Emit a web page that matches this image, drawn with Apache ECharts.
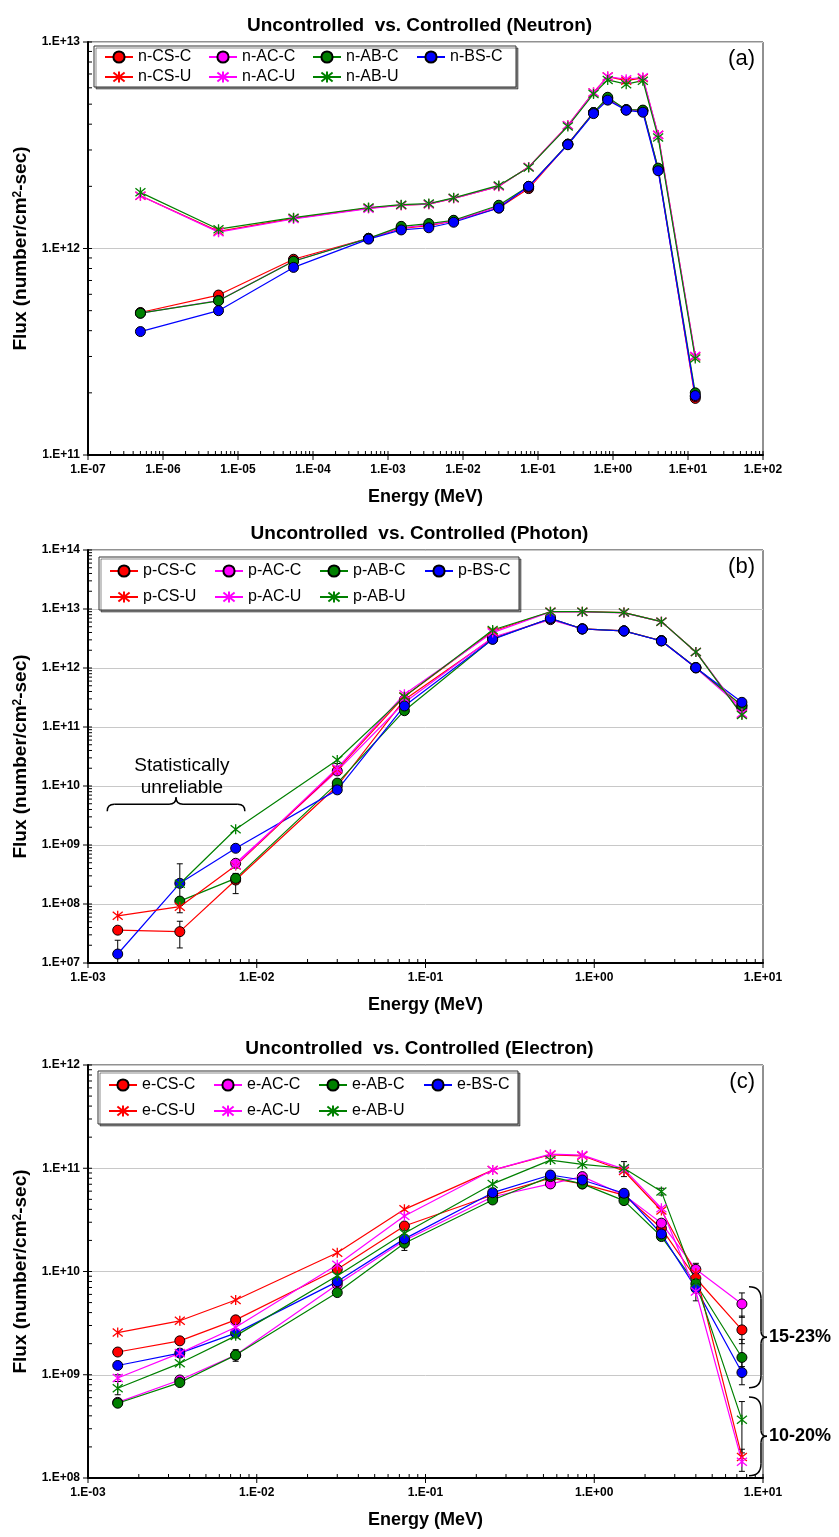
<!DOCTYPE html>
<html>
<head>
<meta charset="utf-8">
<script src="https://cdn.jsdelivr.net/npm/echarts@6/dist/echarts.min.js"></script>
<style>
  html, body { margin: 0; padding: 0; background: #fff; }
  #chart { width: 839px; height: 1537px; }
</style>
</head>
<body>
<div id="chart"></div>
<script>
// energies (MeV)
const nEnergy = [5e-7, 5.5e-6, 5.5e-5, 5.5e-4, 1.5e-3, 3.5e-3, 7.5e-3, 0.03, 0.075, 0.25, 0.55, 0.85, 1.5, 2.5, 4, 12.5];
const peEnergy = [1.5e-3, 3.5e-3, 7.5e-3, 0.03, 0.075, 0.25, 0.55, 0.85, 1.5, 2.5, 4, 7.5];

// (a) neutron flux
const nCSC = [4.9e11, 5.95e11, 8.87e11, 1.12e12, 1.25e12, 1.29e12, 1.36e12, 1.57e12, 1.95e12, 3.2e12, 4.55e12, 5.3e12, 4.7e12, 4.65e12, 2.42e12, 1.88e11];
const nACC = [4.86e11, 5.6e11, 8.7e11, 1.12e12, 1.26e12, 1.3e12, 1.36e12, 1.6e12, 1.98e12, 3.2e12, 4.55e12, 5.35e12, 4.7e12, 4.65e12, 2.42e12, 1.92e11];
const nABC = [4.86e11, 5.58e11, 8.67e11, 1.12e12, 1.28e12, 1.32e12, 1.37e12, 1.62e12, 2.0e12, 3.2e12, 4.55e12, 5.4e12, 4.7e12, 4.68e12, 2.45e12, 2.0e11];
const nBSC = [3.96e11, 5.0e11, 8.1e11, 1.11e12, 1.23e12, 1.26e12, 1.34e12, 1.57e12, 2.0e12, 3.18e12, 4.5e12, 5.23e12, 4.67e12, 4.57e12, 2.38e12, 1.94e11];
const nCSU = [1.8e12, 1.21e12, 1.4e12, 1.57e12, 1.62e12, 1.64e12, 1.75e12, 2.0e12, 2.48e12, 3.95e12, 5.7e12, 6.8e12, 6.5e12, 6.7e12, 3.55e12, 3.0e11];
const nACU = [1.8e12, 1.2e12, 1.39e12, 1.56e12, 1.62e12, 1.64e12, 1.75e12, 2.0e12, 2.48e12, 3.95e12, 5.7e12, 6.8e12, 6.6e12, 6.75e12, 3.55e12, 3.02e11];
const nABU = [1.87e12, 1.24e12, 1.41e12, 1.58e12, 1.63e12, 1.65e12, 1.76e12, 2.02e12, 2.47e12, 3.9e12, 5.6e12, 6.55e12, 6.25e12, 6.5e12, 3.45e12, 2.93e11];

// (b) photon flux
const pCSC = [3.6e7, 3.4e7, 2.55e8, 1.0e10, 2.9e11, 3.2e12, 6.9e12, 4.6e12, 4.25e12, 2.9e12, 1.02e12, 2.3e11];
const pACC = [null, null, 4.9e8, 1.8e10, 2.6e11, 3.3e12, 6.6e12, 4.6e12, 4.25e12, 2.9e12, 1.0e12, 2.1e11];
const pABC = [null, 1.12e8, 2.72e8, 1.12e10, 1.89e11, 3.1e12, 6.9e12, 4.6e12, 4.25e12, 2.9e12, 1.02e12, 2.3e11];
const pBSC = [1.42e7, 2.24e8, 8.8e8, 8.6e9, 2.27e11, 3.06e12, 6.96e12, 4.58e12, 4.24e12, 2.87e12, 1.01e12, 2.62e11];
const pCSU = [6.3e7, 9.0e7, 4.5e8, 1.9e10, 3.3e11, 4.2e12, 9.0e12, 9.0e12, 8.7e12, 6.1e12, 1.87e12, 1.65e11];
const pACU = [null, null, 4.6e8, 2.0e10, 3.6e11, 3.98e12, 8.9e12, 8.9e12, 8.6e12, 6.1e12, 1.87e12, 1.7e11];
const pABU = [null, 2.2e8, 1.85e9, 2.76e10, 3.27e11, 4.4e12, 9.0e12, 9.0e12, 8.7e12, 6.1e12, 1.87e12, 1.6e11];
const pErr = [[1.5e-3, 5e6, 2.43e7], [3.5e-3, 1.0e8, 4.8e8], [3.5e-3, 1.8e7, 5.1e7], [3.5e-3, 7.1e7, 1.08e8],
              [7.5e-3, 1.5e8, 3.2e8], [7.5e-3, 4.1e8, 5.7e8], [7.5e-3, 2.2e8, 3.3e8], [0.03, 1.6e10, 2.4e10]];

// (c) electron flux
const eCSC = [1.66e9, 2.13e9, 3.4e9, 1.05e10, 2.76e10, 5.5e10, 8.0e10, 7.05e10, 5.5e10, 2.62e10, 8.6e9, 2.72e9];
const eACC = [5.4e8, 8.9e8, 1.55e9, 7.5e9, 2.0e10, 5.3e10, 7.05e10, 8.3e10, 5.5e10, 2.94e10, 1.05e10, 4.85e9];
const eABC = [5.3e8, 8.4e8, 1.55e9, 6.25e9, 1.88e10, 4.93e10, 8.3e10, 7.05e10, 4.86e10, 2.18e10, 7.6e9, 1.47e9];
const eBSC = [1.23e9, 1.62e9, 2.53e9, 7.98e9, 2.07e10, 5.8e10, 8.6e10, 7.7e10, 5.73e10, 2.31e10, 6.9e9, 1.05e9];
const eCSU = [2.56e9, 3.33e9, 5.3e9, 1.52e10, 4.0e10, 9.6e10, 1.35e11, 1.32e11, 9.4e10, 3.9e10, 9.6e9, 1.6e8];
const eACU = [9.3e8, 1.62e9, 2.88e9, 1.16e10, 3.45e10, 9.6e10, 1.37e11, 1.34e11, 9.8e10, 4.1e10, 6.4e9, 1.44e8];
const eABU = [7.4e8, 1.29e9, 2.38e9, 9.1e9, 2.35e10, 7.05e10, 1.2e11, 1.09e11, 1.0e11, 5.94e10, 7.8e9, 3.66e8];
const eErr = [[1.5e-3, 6.4e8, 8.6e8], [1.5e-3, 8.6e8, 1.0e9], [7.5e-3, 1.35e9, 1.75e9], [0.075, 1.6e10, 2.2e10],
              [1.5, 8.3e10, 1.16e11], [2.5, 5.5e10, 6.4e10], [4, 8.8e9, 1.2e10], [4, 5.2e9, 7.6e9],
              [7.5, 3.6e9, 6.2e9], [7.5, 2.0e9, 3.7e9], [7.5, 1.2e9, 2.2e9], [7.5, 8.0e8, 1.35e9],
              [7.5, 1.75e8, 5.5e8], [7.5, 1.16e8, 1.9e8]];

// axis ranges (exponents)
const xRange = [[-7, 2], [-3, 1], [-3, 1]];
const yRange = [[11, 13], [7, 14], [8, 12]];
const titles = ['Uncontrolled  vs. Controlled (Neutron)', 'Uncontrolled  vs. Controlled (Photon)', 'Uncontrolled  vs. Controlled (Electron)'];
const panelTags = ['(a)', '(b)', '(c)'];

const FONT = '"Liberation Sans", Arial, sans-serif';
const RED = '#ff0000', MAG = '#ff00ff', GRN = '#008000', BLU = '#0000ff';
const STAR = 'path://M5,0L5,10M1,1L9,9M1,9L9,1';
const gridTops = [42, 550, 1065];

function expLabel(v) {
    let e = Math.round(Math.log10(v));
    return '1.E' + (e < 0 ? '-' : '+') + String(Math.abs(e)).padStart(2, '0');
}

function pairs(xs, ys) {
    return xs.map((x, i) => [x, ys[i]]).filter(p => p[1] != null);
}

function lineSeries(name, color, star, idx, xs, ys) {
    return {
        name: name, type: 'line', xAxisIndex: idx, yAxisIndex: idx,
        data: pairs(xs, ys),
        symbol: star ? STAR : 'circle',
        symbolSize: star ? 10 : 10,
        lineStyle: { color: color, width: 1.2 },
        itemStyle: star ? { color: color, borderColor: color, borderWidth: 1.3 }
                        : { color: color, borderColor: '#000', borderWidth: 1 },
        emphasis: { disabled: true },
        z: 3
    };
}

// axis ticks: major ticks cross the axis, minor ticks sit inside
function logTicks(lo, hi) {
    let out = [];
    for (let e = lo; e <= hi; e++) {
        out.push([Math.pow(10, e), 1]);
        if (e < hi) for (let m = 2; m <= 9; m++) out.push([m * Math.pow(10, e), 0]);
    }
    return out;
}

function tickSeries(idx, axis) {
    let ticks = axis === 'x' ? logTicks(xRange[idx][0], xRange[idx][1]) : logTicks(yRange[idx][0], yRange[idx][1]);
    let fixed = axis === 'x' ? Math.pow(10, yRange[idx][0]) : Math.pow(10, xRange[idx][0]);
    return {
        type: 'custom', xAxisIndex: idx, yAxisIndex: idx, silent: true, clip: false, z: 6,
        data: ticks.map(t => axis === 'x' ? [t[0], fixed, t[1]] : [fixed, t[0], t[1]]),
        renderItem: function (params, api) {
            let p = api.coord([api.value(0), api.value(1)]);
            let major = api.value(2) === 1;
            let shape = axis === 'x'
                ? { x1: p[0], y1: p[1] - 4, x2: p[0], y2: p[1] + (major ? 5 : 0) }
                : { x1: p[0] + 4, y1: p[1], x2: p[0] - (major ? 5 : 0), y2: p[1] };
            return { type: 'line', shape: shape, style: { stroke: '#000', lineWidth: 1 } };
        }
    };
}

function errSeries(idx, bars) {
    return {
        type: 'custom', xAxisIndex: idx, yAxisIndex: idx, silent: true, clip: true, z: 2,
        data: bars,
        renderItem: function (params, api) {
            let lo = api.coord([api.value(0), api.value(1)]);
            let hi = api.coord([api.value(0), api.value(2)]);
            let st = { stroke: '#000', lineWidth: 1 };
            return { type: 'group', children: [
                { type: 'line', shape: { x1: lo[0], y1: lo[1], x2: hi[0], y2: hi[1] }, style: st },
                { type: 'line', shape: { x1: lo[0] - 3, y1: lo[1], x2: lo[0] + 3, y2: lo[1] }, style: st },
                { type: 'line', shape: { x1: hi[0] - 3, y1: hi[1], x2: hi[0] + 3, y2: hi[1] }, style: st }
            ] };
        }
    };
}

let grids = [], xAxes = [], yAxes = [], legends = [], titleList = [], series = [];

const panels = [
    { pre: 'n', xs: nEnergy, data: [nCSC, nACC, nABC, nBSC, nCSU, nACU, nABU], err: null },
    { pre: 'p', xs: peEnergy, data: [pCSC, pACC, pABC, pBSC, pCSU, pACU, pABU], err: pErr },
    { pre: 'e', xs: peEnergy, data: [eCSC, eACC, eABC, eBSC, eCSU, eACU, eABU], err: eErr }
];
const seriesTags = [['CS-C', RED, false], ['AC-C', MAG, false], ['AB-C', GRN, false], ['BS-C', BLU, false],
                    ['CS-U', RED, true], ['AC-U', MAG, true], ['AB-U', GRN, true]];
// left, top, gap, padding, text box width
const legendPos = [[94, 46, 4, [3, 0, 2, 10], 66], [99, 557, 10, [6, 0, 5, 10], 61], [98, 1071, 10, [6, 0, 5, 10], 61]];

panels.forEach(function (pn, i) {
    grids.push({ left: 88, right: 76, top: gridTops[i], height: 413, show: true, borderColor: '#222', borderWidth: 1, containLabel: false });
    titleList.push({ text: titles[i], left: 'center', top: gridTops[i] - 31,
        textStyle: { fontFamily: FONT, fontWeight: 'bold', fontSize: 19, color: '#000' } });
    xAxes.push({
        type: 'log', logBase: 10, gridIndex: i,
        min: Math.pow(10, xRange[i][0]), max: Math.pow(10, xRange[i][1]), splitNumber: xRange[i][1] - xRange[i][0],
        name: 'Energy (MeV)', nameLocation: 'middle', nameGap: 33,
        nameTextStyle: { fontFamily: FONT, fontWeight: 'bold', fontSize: 18, color: '#000' },
        axisLine: { show: true, onZero: false, lineStyle: { color: '#000', width: 2 } },
        axisTick: { show: false }, splitLine: { show: false },
        axisLabel: { formatter: expLabel, fontFamily: FONT, fontWeight: 'bold', fontSize: 12, color: '#000', margin: 9,
                     showMinLabel: true, showMaxLabel: true }
    });
    yAxes.push({
        type: 'log', logBase: 10, gridIndex: i,
        min: Math.pow(10, yRange[i][0]), max: Math.pow(10, yRange[i][1]), splitNumber: yRange[i][1] - yRange[i][0],
        name: 'Flux (number/cm{sup|2}-sec)', nameLocation: 'middle', nameGap: 55,
        nameTextStyle: { fontFamily: FONT, fontWeight: 'bold', fontSize: 19, color: '#000',
                         rich: { sup: { fontFamily: FONT, fontWeight: 'bold', fontSize: 12, verticalAlign: 'top', padding: [0, 0, 8, 0] } } },
        axisLine: { show: true, onZero: false, lineStyle: { color: '#000', width: 2 } },
        axisTick: { show: false },
        splitLine: { show: true, lineStyle: { color: '#c8c8c8', width: 1 } },
        axisLabel: { formatter: expLabel, fontFamily: FONT, fontWeight: 'bold', fontSize: 12, color: '#000', margin: 8,
                     showMinLabel: true, showMaxLabel: true }
    });
    let names = [];
    seriesTags.forEach(function (t, k) {
        let nm = pn.pre + '-' + t[0];
        names.push(nm);
        series.push(lineSeries(nm, t[1], t[2], i, pn.xs, pn.data[k]));
    });
    let lp = legendPos[i];
    legends.push({
        data: names, left: lp[0], top: lp[1], orient: 'horizontal', width: 4 * (38 + lp[4]) + 3 * lp[2] + 10,
        itemWidth: 28, itemHeight: 14, itemGap: lp[2], padding: lp[3],
        borderColor: '#333', borderWidth: 1, backgroundColor: '#fff',
        shadowColor: 'rgba(0,0,0,0.45)', shadowOffsetX: 2, shadowOffsetY: 2, shadowBlur: 0,
        selectedMode: false,
        formatter: '{t|{name}}',
        textStyle: { fontFamily: FONT, fontSize: 16, color: '#000',
                     rich: { t: { width: lp[4], lineHeight: 16, fontSize: 16, fontFamily: FONT, color: '#000' } } }
    });
    if (pn.err) series.push(errSeries(i, pn.err));
    series.push(tickSeries(i, 'x'));
    series.push(tickSeries(i, 'y'));
});

const chart = echarts.init(document.getElementById('chart'), null, { renderer: 'canvas' });
chart.setOption({
    animation: false,
    backgroundColor: '#fff',
    title: titleList,
    grid: grids,
    xAxis: xAxes,
    yAxis: yAxes,
    legend: legends,
    series: series
});

// annotations placed from the data scales
function px(i, x, y) {
    return chart.convertToPixel({ xAxisIndex: i, yAxisIndex: i }, [x, y]);
}

const braceStyle = { stroke: '#000', lineWidth: 1.5, fill: null };
function seg(a, b) {
    return { type: 'line', z: 10, silent: true, shape: { x1: a[0], y1: a[1], x2: b[0], y2: b[1] }, style: braceStyle };
}
function quad(a, c, b) {
    return { type: 'bezierCurve', z: 10, silent: true,
        shape: { x1: a[0], y1: a[1], cpx1: c[0], cpy1: c[1], x2: b[0], y2: b[1] }, style: braceStyle };
}
// brace opening downward, tip pointing up
function hBrace(x1, x2, y0, h) {
    let xm = (x1 + x2) / 2;
    return [
        quad([x1, y0 + h], [x1, y0], [x1 + h, y0]), seg([x1 + h, y0], [xm - h, y0]),
        quad([xm - h, y0], [xm, y0], [xm, y0 - h]), quad([xm, y0 - h], [xm, y0], [xm + h, y0]),
        seg([xm + h, y0], [x2 - h, y0]), quad([x2 - h, y0], [x2, y0], [x2, y0 + h])
    ];
}
// brace "}" with tip pointing right
function vBrace(x0, y1, y2, hEnd, hTip) {
    let ym = (y1 + y2) / 2;
    return [
        quad([x0 - hEnd, y1], [x0, y1], [x0, y1 + hEnd]), seg([x0, y1 + hEnd], [x0, ym - hTip]),
        quad([x0, ym - hTip], [x0, ym], [x0 + hTip, ym]), quad([x0 + hTip, ym], [x0, ym], [x0, ym + hTip]),
        seg([x0, ym + hTip], [x0, y2 - hEnd]), quad([x0, y2 - hEnd], [x0, y2], [x0 - hEnd, y2])
    ];
}

let graphics = [];
panelTags.forEach(function (tag, i) {
    let corner = px(i, Math.pow(10, xRange[i][1]), Math.pow(10, yRange[i][1]));
    graphics.push({ type: 'text', x: corner[0] - 8, y: corner[1] + 6, z: 10, silent: true,
        style: { text: tag, align: 'right', verticalAlign: 'top', font: '22px ' + FONT, fill: '#000' } });
});

// (b) statistically unreliable
let sTxt = px(1, 3.6e-3, 1.45e10);
graphics.push({ type: 'text', x: sTxt[0], y: sTxt[1], z: 10, silent: true,
    style: { text: 'Statistically\nunreliable', align: 'center', verticalAlign: 'middle', lineHeight: 22,
             font: '19px ' + FONT, fill: '#000' } });
let bL = px(1, 1.3e-3, 4.9e9), bR = px(1, 8.5e-3, 4.9e9);
graphics = graphics.concat(hBrace(bL[0], bR[0], bL[1], 7));

// (c) uncertainty ranges at the last energy
let edgeX = px(2, 10, 1e9)[0];
let r1a = px(2, 10, 7.1e9)[1], r1b = px(2, 10, 7.5e8)[1];
let r2a = px(2, 10, 6.1e8)[1], r2b = px(2, 10, 1.05e8)[1];
[[r1a, r1b, '15-23%'], [r2a, r2b, '10-20%']].forEach(function (b) {
    graphics = graphics.concat(vBrace(edgeX - 2, b[0], b[1], 12, 6));
    graphics.push({ type: 'text', x: edgeX + 6, y: (b[0] + b[1]) / 2, z: 10, silent: true,
        style: { text: b[2], align: 'left', verticalAlign: 'middle', font: 'bold 18px ' + FONT, fill: '#000' } });
});

chart.setOption({ graphic: graphics });
</script>
</body>
</html>
